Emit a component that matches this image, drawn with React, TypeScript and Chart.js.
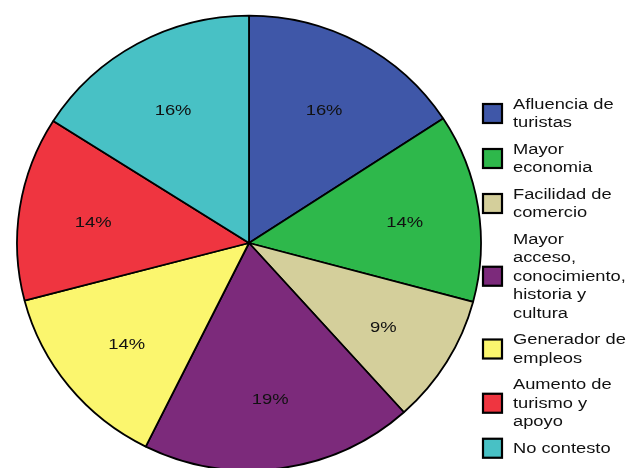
import React, { useEffect, useRef } from "react";
import { Chart, registerables } from "chart.js";

Chart.register(...registerables);

const categories = [
  "Afluencia de turistas",
  "Mayor economia",
  "Facilidad de comercio",
  "Mayor acceso, conocimiento, historia y cultura",
  "Generador de empleos",
  "Aumento de turismo y apoyo",
  "No contesto",
];
const shares = [15.8, 13.4, 9.2, 19.0, 13.6, 13.1, 16.0];
const percentLabels = ["16%", "14%", "9%", "19%", "14%", "14%", "16%"];
const colors = ["#3F57A8", "#2EB84B", "#D4CF9B", "#7C2A7B", "#FBF66E", "#EF3540", "#48C1C5"];

const FONT = '"Liberation Sans", Arial, sans-serif';
const SQUASH_Y = 0.98;

const pieLabelsPlugin = {
  id: "pieLabels",
  beforeDatasetsDraw(chart: any) {
    const ctx = chart.ctx as CanvasRenderingContext2D;
    const meta = chart.getDatasetMeta(0);
    const cy = meta.data.length ? meta.data[0].y : 0;
    ctx.save();
    ctx.translate(0, cy);
    ctx.scale(1, SQUASH_Y);
    ctx.translate(0, -cy);
  },
  afterDatasetsDraw(chart: any) {
    const ctx = chart.ctx as CanvasRenderingContext2D;
    ctx.restore();
    const meta = chart.getDatasetMeta(0);
    ctx.save();
    ctx.font = `14.5px ${FONT}`;
    ctx.fillStyle = "#111";
    ctx.textAlign = "center";
    ctx.textBaseline = "middle";
    meta.data.forEach((arc: any, i: number) => {
      const p = arc.getProps(["x", "y", "startAngle", "endAngle", "outerRadius"], true);
      const mid = (p.startAngle + p.endAngle) / 2;
      const r = p.outerRadius * 0.68;
      ctx.save();
      ctx.translate(p.x + Math.cos(mid) * r, p.y + Math.sin(mid) * r * SQUASH_Y + 4);
      ctx.scale(1.27, 1);
      ctx.fillText(percentLabels[i], 0, 0);
      ctx.restore();
    });
    ctx.restore();
  },
};

const wrapLegendPlugin = {
  id: "wrapLegend",
  afterDraw(chart: any) {
    const ctx = chart.ctx as CanvasRenderingContext2D;
    const sx = 1.18;
    const maxW = 116;
    const lh = 18.5;
    const gap = 8;
    const boxX = 483;
    const textX = 513;
    let top = 95;
    ctx.save();
    ctx.font = `15.5px ${FONT}`;
    categories.forEach((name, i) => {
      const words = name.split(" ");
      const lines: string[] = [];
      let cur = "";
      words.forEach((w) => {
        const t = cur ? cur + " " + w : w;
        if (cur && ctx.measureText(t).width * sx > maxW) {
          lines.push(cur);
          cur = w;
        } else cur = t;
      });
      lines.push(cur);
      const h = lines.length * lh;
      const cy = top + h / 2;
      ctx.fillStyle = colors[i];
      ctx.fillRect(boxX, cy - 9.5, 19, 19);
      ctx.lineWidth = 2.2;
      ctx.strokeStyle = "#000";
      ctx.strokeRect(boxX, cy - 9.5, 19, 19);
      lines.forEach((ln, j) => {
        ctx.save();
        ctx.translate(textX, top + lh * j + lh / 2);
        ctx.scale(sx, 1);
        ctx.fillStyle = "#111";
        ctx.textBaseline = "middle";
        ctx.textAlign = "left";
        ctx.fillText(ln, 0, 0);
        ctx.restore();
      });
      top += h + gap;
    });
    ctx.restore();
  },
};

export default function App() {
  const ref = useRef<HTMLCanvasElement | null>(null);
  useEffect(() => {
    if (!ref.current) return;
    const chart = new Chart(ref.current, {
      type: "pie",
      data: {
        labels: categories,
        datasets: [
          {
            data: shares,
            backgroundColor: colors,
            borderColor: "#000",
            borderWidth: 1.8,
            radius: 232,
          } as any,
        ],
      },
      options: {
        responsive: false,
        animation: false,
        layout: { padding: { left: 0, right: 135, top: 18, bottom: 0 } },
        plugins: {
          legend: { display: false },
          tooltip: { enabled: false },
        },
      },
      plugins: [pieLabelsPlugin, wrapLegendPlugin],
    });
    return () => chart.destroy();
  }, []);
  return (
    <div style={{ position: "fixed", left: 0, top: 0, width: 633, height: 468, background: "#fff", overflow: "hidden" }}>
      <canvas ref={ref} width={633} height={468} style={{ width: 633, height: 468, display: "block" }} />
    </div>
  );
}
